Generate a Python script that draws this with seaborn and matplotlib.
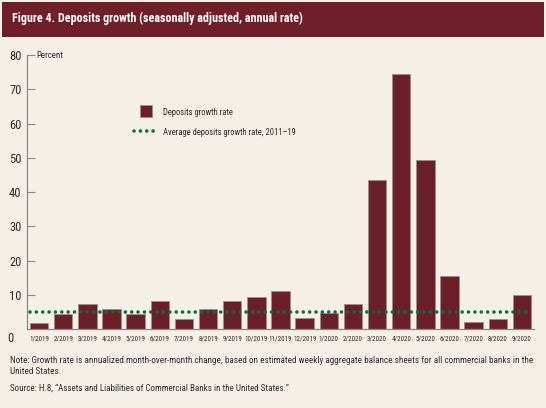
import numpy as np
import pandas as pd
import matplotlib
matplotlib.use('Agg')
import matplotlib.pyplot as plt
import seaborn as sns
from matplotlib import font_manager as fm
from matplotlib.lines import Line2D
from matplotlib.patches import Rectangle

# Data
months = ['1/2019', '2/2019', '3/2019', '4/2019', '5/2019', '6/2019', '7/2019',
          '8/2019', '9/2019', '10/2019', '11/2019', '12/2019', '1/2020', '2/2020',
          '3/2020', '4/2020', '5/2020', '6/2020', '7/2020', '8/2020', '9/2020']
growth = [1.8, 4.3, 7.2, 5.9, 4.3, 8.3, 2.8, 5.8, 8.3, 9.4, 11.2, 3.3, 4.6, 7.2,
          43.4, 74.5, 49.5, 15.6, 2.0, 2.8, 10.0]
avg_growth = 5.1
yticks = [10, 20, 30, 40, 50, 60, 70, 80]

bar_color = '#6b1f29'
dot_color = '#0f6b45'
bg_color = '#f4f0e8'
text_gray = '#2e2e2e'

sns.set_theme(style='white')

# condensed face, like the original's
names = {f.name for f in fm.fontManager.ttflist}
fam = next((f for f in ['Roboto Condensed', 'Barlow Condensed', 'Open Sans Condensed']
            if f in names), 'DejaVu Sans')
plt.rcParams['font.family'] = [fam, 'DejaVu Sans']

df = pd.DataFrame({'Month': months, 'Growth': growth})

fig = plt.figure(figsize=(5.46, 4.08), dpi=100, facecolor=bg_color)
ax = fig.add_axes([0.0495, 0.1936, 0.9285, 0.6714])
ax.set_facecolor(bg_color)

sns.barplot(data=df, x='Month', y='Growth', color=bar_color, width=0.76,
            saturation=1, edgecolor='#9a8f8f', linewidth=0.6, ax=ax, zorder=2)
ax.axhline(avg_growth, color=dot_color, lw=2.6, linestyle=(0, (0.01, 1.75)),
           dash_capstyle='round', zorder=3, xmin=0.005, xmax=0.995)

ax.set_xlim(-0.5, len(months) - 0.5)
ax.set_ylim(0, 80)
ax.set_yticks(yticks)
ax.set_yticklabels([str(t) for t in yticks], fontsize=9, color=text_gray)
ax.set_xticks(range(len(months)))
ax.set_xticklabels(months, fontsize=6.5, color=text_gray)
ax.set_xticks(np.arange(0.5, len(months) - 0.5, 1), minor=True)
ax.tick_params(axis='x', which='major', length=0, pad=5)
ax.tick_params(axis='x', which='minor', direction='in', length=7, width=0.8, color='#999999')
ax.tick_params(axis='y', direction='in', length=6, width=0.8, color='#888888', pad=4, left=True)
ax.set_xlabel('')
ax.set_ylabel('')
for s in ['top', 'right']:
    ax.spines[s].set_visible(False)
for s in ['left', 'bottom']:
    ax.spines[s].set_color('#888888')
    ax.spines[s].set_linewidth(0.9)

percent = ax.text(0.019, 80, 'Percent', transform=ax.get_yaxis_transform(), fontsize=8,
                  va='center', ha='left', color=text_gray)
fig.text(10 / 546, 1 - 339 / 408, '0', fontsize=9, ha='center', va='center', color=text_gray)

handles = [Line2D([], [], marker='s', linestyle='none', markersize=8.5,
                  markerfacecolor=bar_color, markeredgecolor='#9a8f8f', markeredgewidth=0.6),
           Line2D([], [], color=dot_color, lw=2.6, linestyle=(0, (0.01, 1.75)),
                  dash_capstyle='round')]
leg = ax.legend(handles, ['Deposits growth rate', 'Average deposits growth rate, 2011\u201319'],
                loc='upper left', bbox_to_anchor=(0.19, 0.85), frameon=False, fontsize=8.5,
                handlelength=2.0, handletextpad=0.45, labelspacing=0.85, labelcolor=text_gray)

fig.patches.append(Rectangle((2 / 546, 1 - 37 / 408), 542 / 546, 35 / 408,
                             transform=fig.transFigure, facecolor='#6e1f29',
                             edgecolor='none', zorder=0))
title = fig.text(12 / 546, 1 - 18 / 408,
                 'Figure 4. Deposits growth (seasonally adjusted, annual rate)',
                 color='white', fontsize=11, fontweight='bold', va='center', ha='left')

note = ('Note: Growth rate is annualized month-over-month change, based on estimated weekly '
        'aggregate balance sheets for all commercial banks in the\nUnited States.')
note_t = fig.text(10 / 546, 1 - 356 / 408, note, fontsize=8, va='top', ha='left',
                  color=text_gray, linespacing=1.25)
src_t = fig.text(10 / 546, 1 - 388 / 408,
                 'Source: H.8, \u201cAssets and Liabilities of Commercial Banks in the United States.\u201d',
                 fontsize=8, va='center', ha='left', color=text_gray)

# scale texts to the widths they take in the original
fig.canvas.draw()
r = fig.canvas.get_renderer()
def fit(t, width_px):
    t.set_fontsize(t.get_fontsize() * width_px / t.get_window_extent(r).width)

fit(title, 292)
fit(note_t, 517)
fit(src_t, 279)
fit(percent, 27)
lt = leg.get_texts()
fit(lt[1], 133)
lt[0].set_fontsize(lt[1].get_fontsize())
xl = ax.get_xticklabels()
scale = 23 / xl[10].get_window_extent(r).width
for t in xl:
    t.set_fontsize(t.get_fontsize() * scale)

fig.savefig('out.png', dpi=100, facecolor=bg_color)
